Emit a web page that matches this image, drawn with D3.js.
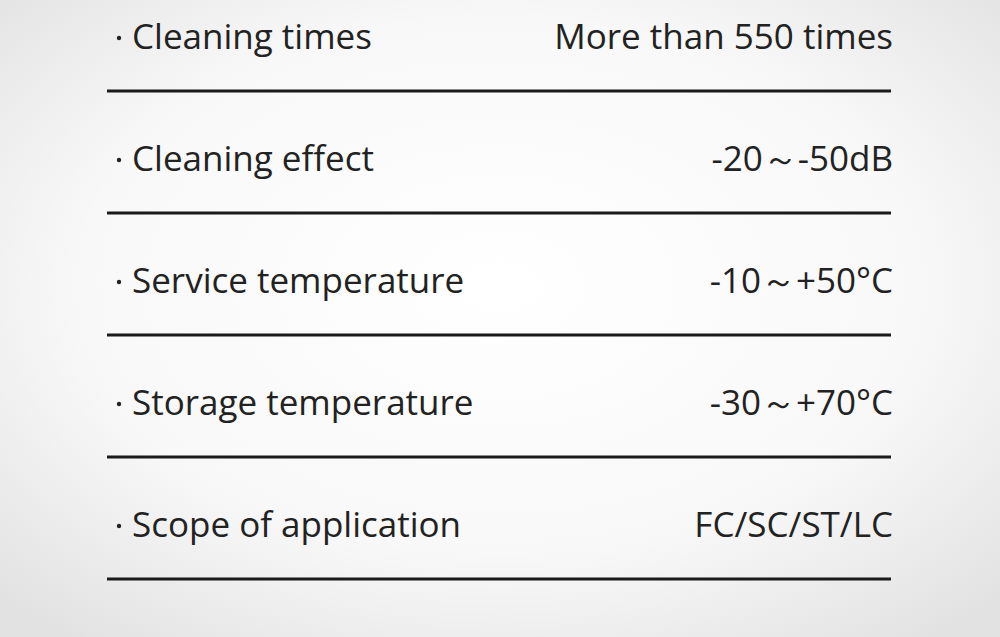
<!DOCTYPE html>
<html><head><meta charset="utf-8">
<script src="https://cdn.jsdelivr.net/npm/d3@7"></script>
<style>body{margin:0;overflow:hidden}</style>
</head><body>
<svg id="c" width="1000" height="637"></svg>
<script>
// spec table rows
var labels = ["Cleaning times", "Cleaning effect", "Service temperature", "Storage temperature", "Scope of application"]
var values = ["More than 550 times", "-20～-50dB", "-10～+50°C", "-30～+70°C", "FC/SC/ST/LC"]

var svg = d3.select("#c")
var defs = svg.append("defs")
var grad = defs.append("radialGradient").attr("id", "bg").attr("cx", "50%").attr("cy", "45%").attr("r", "70%")
grad.append("stop").attr("offset", "0%").attr("stop-color", "#ffffff")
grad.append("stop").attr("offset", "60%").attr("stop-color", "#f8f8f8")
grad.append("stop").attr("offset", "100%").attr("stop-color", "#e2e2e2")
svg.append("rect").attr("width", 1000).attr("height", 637).attr("fill", "url(#bg)")

// one band per row
var y = d3.scaleBand().domain(labels).range([-30, 580]).paddingInner(0)

var rows = svg.selectAll("g.row").data(labels).enter().append("g")
  .attr("transform", d => "translate(0," + y(d) + ")")

var font = "'Open Sans', sans-serif"

rows.append("circle").attr("cx", 119).attr("cy", 68).attr("r", 2.2).attr("fill", "#222")

rows.append("text").attr("x", 132).attr("y", 79)
  .attr("font-family", font).attr("font-size", 35).attr("fill", "#222")
  .text(d => d)

rows.append("text").attr("x", 893).attr("y", 79).attr("text-anchor", "end")
  .attr("font-family", font).attr("font-size", 35).attr("fill", "#222")
  .text((d, i) => values[i])

rows.append("line").attr("x1", 107).attr("x2", 891).attr("y1", 121).attr("y2", 121)
  .attr("stroke", "#1a1a1a").attr("stroke-width", 3)
</script>
</body></html>
